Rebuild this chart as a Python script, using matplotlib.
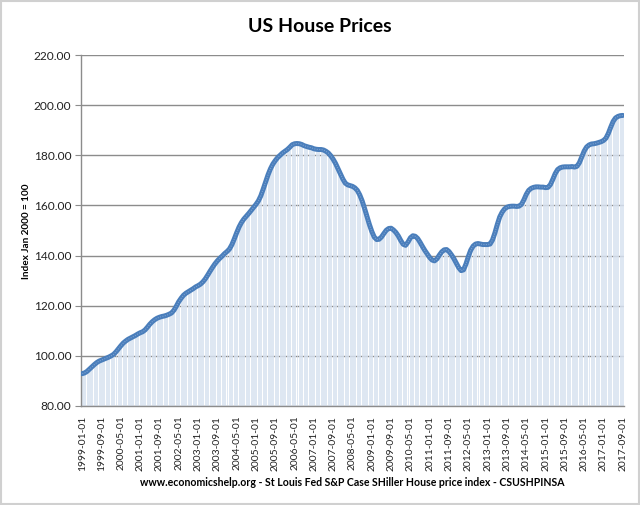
import matplotlib
matplotlib.use('Agg')
import matplotlib.pyplot as plt
from matplotlib.patches import Rectangle
import numpy as np
import pandas as pd

plt.rcParams['font.family'] = ['Lato', 'DejaVu Sans']

months = list(pd.date_range('1999-01-01', '2017-09-01', freq='MS').strftime('%Y-%m-%d'))

v1999 = [92.9, 93.2, 93.8, 94.7, 95.6, 96.5, 97.3, 97.9, 98.3, 98.7, 99.1, 99.5]
v2000 = [100.0, 100.6, 101.6, 102.8, 104.0, 105.1, 105.9, 106.6, 107.1, 107.6, 108.1, 108.7]
v2001 = [109.2, 109.6, 110.3, 111.4, 112.6, 113.6, 114.4, 115.0, 115.4, 115.7, 115.9, 116.2]
v2002 = [116.6, 117.1, 118.2, 119.8, 121.6, 123.0, 124.2, 125.0, 125.6, 126.2, 126.8, 127.5]
v2003 = [128.0, 128.6, 129.5, 130.7, 132.2, 133.8, 135.3, 136.7, 137.9, 138.9, 139.8, 140.8]
v2004 = [141.6, 142.6, 144.3, 146.6, 149.1, 151.4, 153.2, 154.6, 155.7, 156.8, 158.0, 159.2]
v2005 = [160.4, 161.8, 163.8, 166.5, 169.4, 172.2, 174.6, 176.5, 177.9, 179.1, 180.0, 180.9]
v2006 = [181.6, 182.3, 183.2, 184.2, 184.6, 184.7, 184.6, 184.3, 183.8, 183.5, 183.2, 183.0]
v2007 = [182.6, 182.4, 182.3, 182.3, 182.1, 181.6, 180.9, 179.8, 178.4, 176.7, 174.6, 172.5]
v2008 = [170.5, 168.9, 168.2, 167.9, 167.6, 167.0, 166.0, 164.2, 161.8, 158.8, 155.6, 152.4]
v2009 = [149.6, 147.4, 146.4, 146.5, 147.4, 148.8, 150.1, 150.8, 150.9, 150.2, 149.2, 147.8]
v2010 = [146.0, 144.5, 144.1, 145.4, 147.1, 147.9, 147.7, 146.8, 145.3, 143.6, 142.0, 140.6]
v2011 = [139.2, 138.2, 137.9, 138.7, 140.2, 141.5, 142.3, 142.4, 141.6, 140.3, 138.8, 137.0]
v2012 = [135.2, 134.0, 134.3, 136.6, 139.6, 142.2, 143.8, 144.6, 144.8, 144.6, 144.4, 144.4]
v2013 = [144.4, 144.6, 146.2, 149.0, 152.4, 155.4, 157.3, 158.6, 159.3, 159.6, 159.7, 159.7]
v2014 = [159.6, 159.7, 160.4, 162.2, 164.4, 166.0, 166.8, 167.2, 167.4, 167.4, 167.3, 167.3]
v2015 = [167.1, 167.2, 168.3, 170.4, 172.7, 174.3, 175.0, 175.3, 175.4, 175.4, 175.4, 175.5]
v2016 = [175.3, 175.6, 177.0, 179.3, 181.7, 183.3, 184.1, 184.5, 184.6, 184.8, 185.1, 185.4]
v2017 = [185.9, 186.8, 188.7, 191.2, 193.5, 194.9, 195.5, 195.8, 195.9]

values = (v1999 + v2000 + v2001 + v2002 + v2003 + v2004 + v2005 + v2006 + v2007 +
          v2008 + v2009 + v2010 + v2011 + v2012 + v2013 + v2014 + v2015 + v2016 + v2017)

y_ticks = [80, 100, 120, 140, 160, 180, 200, 220]
title = 'US House Prices'
ylabel = 'Index Jan 2000 = 100'
footer = 'www.economicshelp.org - St Louis Fed S&P Case SHiller House price index - CSUSHPINSA'

W, H = 640, 505
fig = plt.figure(figsize=(W / 100, H / 100), dpi=100)
left, right, top, bottom = 81, 624, 55, 406
ax = fig.add_axes([left / W, 1 - bottom / H, (right - left) / W, (bottom - top) / H])

x = np.arange(len(months))
ax.bar(x, values, width=0.4, color='#f2f6fb', edgecolor='#d3dfef', linewidth=0.5, zorder=1)
ax.plot(x, values, color='#4a7ebb', lw=3.6, solid_capstyle='round', solid_joinstyle='round', zorder=3)
ax.plot(x, values, color='#8fb0dc', lw=0.8, ls=(0, (1, 1.2)), zorder=4, alpha=0.7)

ax.set_xlim(-0.5, len(months) - 0.5)
ax.set_ylim(80, 220)
ax.set_yticks(y_ticks)
ax.set_yticklabels([f'{t:.2f}' for t in y_ticks])
ax.yaxis.grid(True, color='#8c8c8c', lw=1)
ax.set_axisbelow(True)
tick_pos = x[::8]
ax.set_xticks(tick_pos)
ax.set_xticklabels([months[i] for i in tick_pos], rotation=90)

for s in ['top', 'right']:
    ax.spines[s].set_visible(False)
for s in ['left', 'bottom']:
    ax.spines[s].set_color('#8c8c8c')
    ax.spines[s].set_linewidth(1)
ax.tick_params(axis='y', length=4, color='#8c8c8c', labelsize=8.6, pad=3, labelcolor='#222222')
ax.tick_params(axis='x', length=0, labelsize=7.4, pad=7, labelcolor='#222222')

fig.text(0.5, 1 - 27 / H, title, ha='center', va='center', fontsize=14, fontweight='bold')
fig.text(27 / W, 1 - 231 / H, ylabel, ha='center', va='center', rotation=90, fontsize=7.2, fontweight='bold')
fig.text(352 / W, 1 - 482 / H, footer, ha='center', va='center', fontsize=7.6, fontweight='bold')

fig.patches.append(Rectangle((0.001, 0.002), 0.997, 0.996, transform=fig.transFigure,
                             fill=False, edgecolor='#d0d0d0', lw=1.5))

fig.savefig('out.png', dpi=100)
